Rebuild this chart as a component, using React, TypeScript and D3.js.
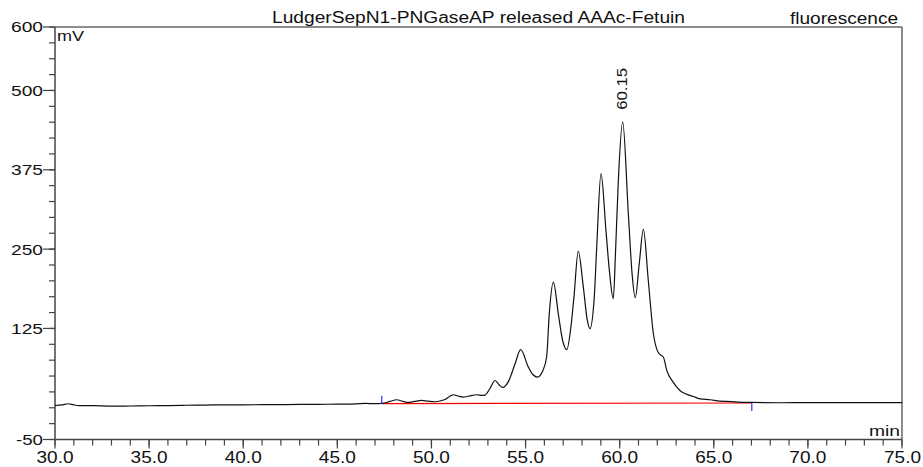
import React from 'react';
import * as d3 from 'd3';

// chromatogram trace (min, mV)
const retentionTime = [
  30.0, 30.4, 30.7, 31.0, 31.3, 32.0, 33.0, 34.0, 35.0, 36.0, 37.0, 38.0, 39.0, 40.0, 41.0, 42.0,
  43.0, 44.0, 45.0, 46.0, 46.5, 47.0, 47.36, 47.8, 48.15, 48.5, 48.77, 49.1, 49.48, 49.8, 50.19,
  50.5, 50.72, 51.0, 51.16, 51.4, 51.69, 52.0, 52.4, 52.7, 52.85, 53.1, 53.38, 53.6, 53.8, 54.1,
  54.44, 54.74, 55.15, 55.4, 55.64, 55.91, 56.12, 56.26, 56.48, 56.74, 56.97, 57.19, 57.4, 57.57,
  57.8, 58.07, 58.28, 58.42, 58.65, 58.78, 59.01, 59.27, 59.45, 59.66, 59.79, 59.93, 60.16, 60.46,
  60.66, 60.83, 61.04, 61.26, 61.52, 61.79, 62.0, 62.14, 62.32, 62.5, 62.85, 63.2, 63.5, 63.91,
  64.27, 64.8, 65.33, 65.69, 66.3, 67.02, 68.52, 70.0, 71.5, 73.0, 75.0,
];
const signal = [
  3.6, 4.5, 6.3, 4.5, 3.5, 3.5, 2.5, 2.8, 3.2, 3.5, 4.0, 4.2, 4.7, 4.7, 4.8, 5.0,
  5.2, 5.5, 5.7, 6.2, 6.8, 6.5, 6.8, 10, 12.6, 10, 8.4, 10, 11.5, 10.5, 9.5,
  11, 13, 18.5, 20.5, 18.5, 16.7, 18.5, 20.5, 19.5, 20, 30, 43, 36, 32, 42,
  69, 91.5, 64, 52, 48.3, 58, 80, 148, 198, 148, 106, 91.5, 125, 174,
  246.6, 190, 138, 124.6, 174, 253, 369, 280, 217, 172, 253, 358.6, 450.6, 306,
  211, 173.5, 227, 281, 201, 117, 90, 84, 80, 59, 40, 27.3, 22, 17.8,
  14, 12.6, 10.5, 10, 9, 8.4, 7.9, 8.0, 8.0, 8.0, 8.0,
];

// integration baseline (start / end)
const baselineTime = [47.36, 67.02];
const baselineValue = [6.5, 7.5];

const peakTime = 60.15;
const peakValue = 450.6;
const peakLabel = '60.15';

const yMajor = [600, 500, 375, 250, 125, -50];
const yMinor = d3.range(-50, 601, 25);
const xMajor = d3.range(30, 76, 5);
const xMinor = d3.range(30, 76, 1);

const title = 'LudgerSepN1-PNGaseAP released AAAc-Fetuin';
const detector = 'fluorescence';

const W = 923;
const H = 467;
const font = 'Liberation Sans, Arial, sans-serif';

export default function App() {
  const x = d3.scaleLinear().domain([30, 75]).range([55, 902]);
  const y = d3.scaleLinear().domain([-50, 600]).range([439.5, 27]);

  const pts = retentionTime.map((t, i) => [t, signal[i]] as [number, number]);
  const line = d3
    .line<[number, number]>()
    .x((d) => x(d[0]))
    .y((d) => y(d[1]))
    .curve(d3.curveMonotoneX);

  const axisColor = '#444';

  return (
    <svg
      width={W}
      height={H}
      style={{ position: 'absolute', left: 0, top: 0, display: 'block', background: '#fff' }}
      fontFamily={font}
    >
      {/* frame */}
      <line x1={x(30)} x2={x(75)} y1={y(600)} y2={y(600)} stroke="#666" strokeWidth={1.5} />
      <line x1={x(75)} x2={x(75)} y1={y(600)} y2={y(-50)} stroke="#666" strokeWidth={1.5} />
      <line x1={x(30)} x2={x(30)} y1={y(600)} y2={y(-50)} stroke={axisColor} strokeWidth={1.5} />
      <line x1={x(30)} x2={x(75)} y1={y(-50)} y2={y(-50)} stroke={axisColor} strokeWidth={1.5} />

      {/* y ticks */}
      {yMinor.map((v) => (
        <line key={'ym' + v} x1={x(30) - 6} x2={x(30)} y1={y(v)} y2={y(v)} stroke={axisColor} strokeWidth={1.2} />
      ))}
      {yMajor.map((v) => (
        <g key={'yM' + v}>
          <line x1={x(30) - 12} x2={x(30)} y1={y(v)} y2={y(v)} stroke={axisColor} strokeWidth={1.2} />
          <text
            x={43}
            y={y(v)}
            dy="0.36em"
            textAnchor="end"
            fontSize={15}
            textLength={v > 0 ? 32 : 27}
            lengthAdjust="spacingAndGlyphs"
            fill="#111"
          >
            {v}
          </text>
        </g>
      ))}

      {/* x ticks */}
      {xMinor.map((t) => (
        <line key={'xm' + t} x1={x(t)} x2={x(t)} y1={y(-50)} y2={y(-50) + 6} stroke={axisColor} strokeWidth={1.2} />
      ))}
      {xMajor.map((t) => (
        <g key={'xM' + t}>
          <line x1={x(t)} x2={x(t)} y1={y(-50)} y2={y(-50) + 9} stroke={axisColor} strokeWidth={1.2} />
          <text
            x={t === 75 ? 921 : x(t)}
            y={463}
            textAnchor={t === 75 ? 'end' : 'middle'}
            fontSize={17}
            textLength={37}
            lengthAdjust="spacingAndGlyphs"
            fill="#111"
          >
            {t.toFixed(1)}
          </text>
        </g>
      ))}

      {/* unit labels */}
      <text x={57} y={41} fontSize={15} textLength={27} lengthAdjust="spacingAndGlyphs" fill="#111">
        mV
      </text>
      <text x={900} y={436} textAnchor="end" fontSize={15} textLength={31} lengthAdjust="spacingAndGlyphs" fill="#111">
        min
      </text>

      {/* titles */}
      <text x={272} y={23} fontSize={16} textLength={413} lengthAdjust="spacingAndGlyphs" fill="#111">
        {title}
      </text>
      <text x={790} y={24} fontSize={16} textLength={108} lengthAdjust="spacingAndGlyphs" fill="#111">
        {detector}
      </text>

      {/* integration baseline */}
      <line
        x1={x(baselineTime[0])}
        x2={x(baselineTime[1])}
        y1={y(baselineValue[0])}
        y2={y(baselineValue[1])}
        stroke="#f00"
        strokeWidth={1.2}
      />

      {/* trace */}
      <path d={line(pts) ?? ''} fill="none" stroke="#111" strokeWidth={1.2} />

      {/* integration markers */}
      <line
        x1={x(baselineTime[0])}
        x2={x(baselineTime[0])}
        y1={y(baselineValue[0]) - 8}
        y2={y(baselineValue[0])}
        stroke="#2a3cff"
        strokeWidth={1.2}
      />
      <line
        x1={x(baselineTime[1])}
        x2={x(baselineTime[1])}
        y1={y(baselineValue[1])}
        y2={y(baselineValue[1]) + 8}
        stroke="#2a3cff"
        strokeWidth={1.2}
      />

      {/* peak label */}
      <text
        transform={`translate(${x(peakTime) + 5},${y(peakValue) - 12}) rotate(-90)`}
        fontSize={15}
        textLength={42}
        lengthAdjust="spacingAndGlyphs"
        fill="#111"
      >
        {peakLabel}
      </text>
    </svg>
  );
}
